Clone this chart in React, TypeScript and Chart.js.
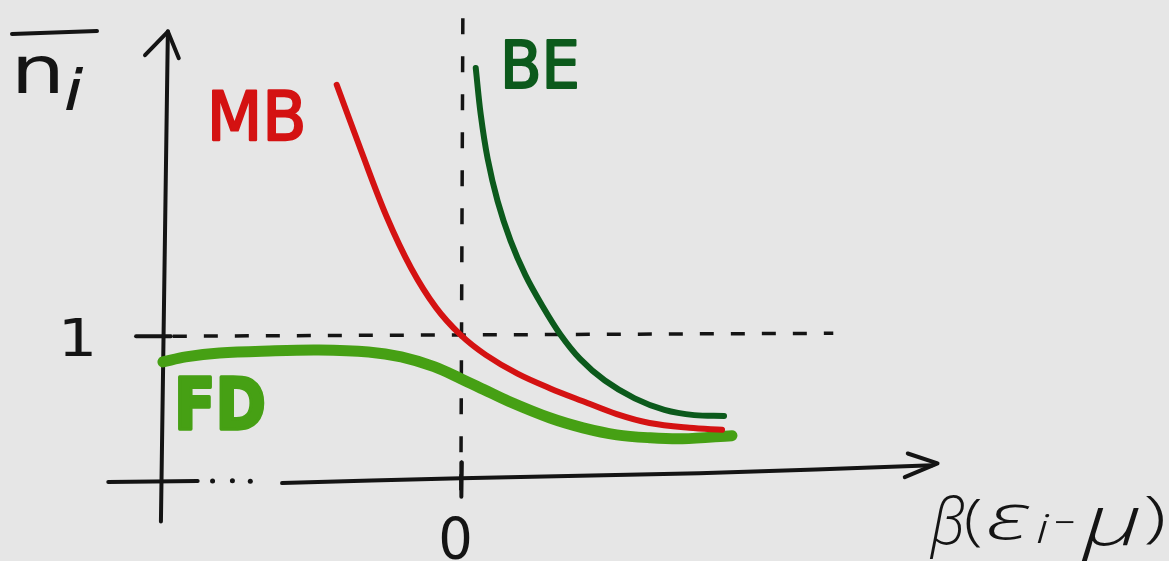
import React, { useEffect, useRef } from "react";
import { Chart, registerables } from "chart.js";

Chart.register(...registerables);

// Occupation number curves, plotted against beta*(e_i - mu)
const mbX = [-1.25, -1.0, -0.75, -0.5, -0.25, 0, 0.25, 0.57, 0.9, 1.23, 1.57, 1.9, 2.3, 2.63];
const mbY = [2.723, 2.264, 1.824, 1.466, 1.196, 1.007, 0.872, 0.743, 0.642, 0.554, 0.466, 0.405, 0.372, 0.358];

const beX = [0.15, 0.2, 0.27, 0.37, 0.5, 0.65, 0.82, 1.0, 1.2, 1.45, 1.75, 2.05, 2.35, 2.65];
const beY = [2.838, 2.52, 2.216, 1.926, 1.655, 1.419, 1.209, 1.014, 0.845, 0.696, 0.574, 0.495, 0.459, 0.453];

const fdX = [-3.0, -2.77, -2.43, -1.93, -1.43, -0.93, -0.6, -0.27, 0, 0.23, 0.48, 0.9, 1.23, 1.57, 1.9, 2.23, 2.73];
const fdY = [0.824, 0.858, 0.885, 0.899, 0.905, 0.892, 0.858, 0.791, 0.709, 0.635, 0.554, 0.439, 0.372, 0.324, 0.304, 0.297, 0.318];

// Hand-drawn axes and reference lines, in the same data units
const yAxisX = [-3.02, -2.95];
const yAxisY = [-0.27, 3.09];
const yArrowX = [-3.18, -2.95, -2.84];
const yArrowY = [2.926, 3.088, 2.905];
const xAxisLeftX = [-3.55, -2.65];
const xAxisLeftY = [0, 0.007];
const xAxisDotsX = [-2.5, -2.3, -2.12];
const xAxisDotsY = [0.007, 0.009, 0.006];
const xAxisMainX = [-1.8, 0, 2.4, 4.75];
const xAxisMainY = [-0.007, 0.027, 0.061, 0.115];
const xArrowX = [4.5, 4.8, 4.47];
const xArrowY = [0.196, 0.128, 0.034];
const oneRefX = [-2.9, 3.75];
const oneRefY = [1.0, 1.02];
const zeroRefX = [0.02, 0];
const zeroRefY = [3.18, -0.1];
const oneTickX = [-3.27, -2.92];
const oneTickY = [1.0, 1.0];
const zeroTickX = [0.01, 0.005];
const zeroTickY = [0.135, -0.1];

const X_MIN = -4.6;
const X_MAX = 7.09;
const Y_MIN = -0.5135;
const Y_MAX = 3.277;

const BG = "#e6e6e6";
const INK = "#141414";
const RED = "#d41212";
const DARK_GREEN = "#0c5a1c";
const GREEN = "#46a014";

const pts = (xs: number[], ys: number[]) => xs.map((x, i) => ({ x, y: ys[i] }));

const stroke = (
  label: string,
  xs: number[],
  ys: number[],
  color: string,
  width: number,
  extra: Record<string, unknown> = {}
) => ({
  label,
  data: pts(xs, ys),
  borderColor: color,
  borderWidth: width,
  borderCapStyle: "round",
  borderJoinStyle: "round",
  pointRadius: 0,
  fill: false,
  tension: 0,
  ...extra,
});

// Draws a string so that its ink fills the given box
function fitText(
  ctx: CanvasRenderingContext2D,
  text: string,
  x: number,
  y: number,
  w: number,
  h: number,
  font: string,
  color: string,
  outline = 0
) {
  ctx.save();
  ctx.font = font;
  const m = ctx.measureText(text);
  const tw = m.actualBoundingBoxLeft + m.actualBoundingBoxRight;
  const th = m.actualBoundingBoxAscent + m.actualBoundingBoxDescent;
  ctx.translate(x, y);
  ctx.scale(w / tw, h / th);
  ctx.fillStyle = color;
  ctx.textBaseline = "alphabetic";
  ctx.textAlign = "left";
  ctx.fillText(text, m.actualBoundingBoxLeft, m.actualBoundingBoxAscent);
  if (outline > 0) {
    ctx.strokeStyle = color;
    ctx.lineWidth = outline;
    ctx.lineJoin = "round";
    ctx.strokeText(text, m.actualBoundingBoxLeft, m.actualBoundingBoxAscent);
  }
  ctx.restore();
}

const labelsPlugin = {
  id: "handLabels",
  beforeDraw(chart: Chart) {
    const { ctx, width, height } = chart;
    ctx.save();
    ctx.fillStyle = BG;
    ctx.fillRect(0, 0, width, height);
    ctx.restore();
  },
  afterDraw(chart: Chart) {
    const ctx = chart.ctx;
    const sans = '"DejaVu Sans", sans-serif';
    const greek = 'italic 300 60px "Open Sans", "DejaVu Sans", sans-serif';
    const plain = '300 60px "Open Sans", "DejaVu Sans", sans-serif';

    // n-bar with subscript i
    ctx.save();
    ctx.strokeStyle = INK;
    ctx.lineWidth = 4;
    ctx.lineCap = "round";
    ctx.beginPath();
    ctx.moveTo(12, 34);
    ctx.lineTo(97, 31);
    ctx.stroke();
    ctx.restore();
    fitText(ctx, "n", 18, 56, 40, 37, `60px ${sans}`, INK);
    fitText(ctx, "i", 66, 66, 18, 44, `italic 60px ${sans}`, INK);

    // tick values
    fitText(ctx, "1", 64, 318, 28, 38, `60px ${sans}`, INK);
    fitText(ctx, "0", 441, 517, 29, 43, `60px ${sans}`, INK);

    // curve names
    fitText(ctx, "MB", 212, 89, 90, 51, `60px ${sans}`, RED, 2);
    fitText(ctx, "BE", 505, 39, 72, 49, `60px ${sans}`, DARK_GREEN, 2);
    fitText(ctx, "FD", 179, 376, 84, 53, `bold 60px ${sans}`, GREEN, 3);

    // horizontal axis title
    const glyphs: [string, number, number, number, number, string][] = [
      ["β", 929, 495, 35, 64, greek],
      ["(", 966, 499, 15, 48, plain],
      ["ε", 988, 503, 42, 37, greek],
      ["i", 1037, 513, 13, 30, greek],
      ["−", 1056, 521, 18, 3, plain],
      ["μ", 1080, 507, 60, 54, greek],
      [")", 1146, 496, 17, 48, plain],
    ];
    for (const [t, x, y, w, h, f] of glyphs) {
      fitText(ctx, t, x, y, w, h, f, INK);
    }
  },
};

export default function App() {
  const canvasRef = useRef<HTMLCanvasElement | null>(null);

  useEffect(() => {
    document.body.style.margin = "0";
    document.body.style.background = BG;
    const canvas = canvasRef.current;
    if (!canvas) return;

    const chart = new Chart(canvas, {
      type: "line",
      data: {
        datasets: [
          stroke("BE", beX, beY, DARK_GREEN, 6, { tension: 0.35 }),
          stroke("MB", mbX, mbY, RED, 6, { tension: 0.35 }),
          stroke("FD", fdX, fdY, GREEN, 11, { tension: 0.35 }),
          stroke("y axis", yAxisX, yAxisY, INK, 4),
          stroke("y arrow", yArrowX, yArrowY, INK, 4),
          stroke("x axis left", xAxisLeftX, xAxisLeftY, INK, 4),
          {
            label: "x axis dots",
            data: pts(xAxisDotsX, xAxisDotsY),
            showLine: false,
            pointRadius: 2.5,
            pointBorderWidth: 0,
            pointBackgroundColor: INK,
            borderColor: INK,
          },
          stroke("x axis", xAxisMainX, xAxisMainY, INK, 4, { tension: 0.3 }),
          stroke("x arrow", xArrowX, xArrowY, INK, 4),
          stroke("n = 1", oneRefX, oneRefY, INK, 3.5, { borderDash: [14, 17], borderCapStyle: "butt" }),
          stroke("x = 0", zeroRefX, zeroRefY, INK, 3.5, { borderDash: [16, 22], borderCapStyle: "butt" }),
          stroke("tick 1", oneTickX, oneTickY, INK, 4),
          stroke("tick 0", zeroTickX, zeroTickY, INK, 4),
        ] as any,
      },
      options: {
        animation: false,
        responsive: true,
        maintainAspectRatio: false,
        devicePixelRatio: 1,
        layout: { padding: 0 },
        events: [],
        plugins: {
          legend: { display: false },
          tooltip: { enabled: false },
          title: { display: false },
        },
        scales: {
          x: { type: "linear", min: X_MIN, max: X_MAX, display: false, grid: { display: false } },
          y: { type: "linear", min: Y_MIN, max: Y_MAX, display: false, grid: { display: false } },
        },
      },
      plugins: [labelsPlugin],
    });

    return () => chart.destroy();
  }, []);

  return (
    <div
      style={{
        position: "fixed",
        left: 0,
        top: 0,
        width: 1169,
        height: 561,
        background: BG,
      }}
    >
      <canvas ref={canvasRef} />
    </div>
  );
}
